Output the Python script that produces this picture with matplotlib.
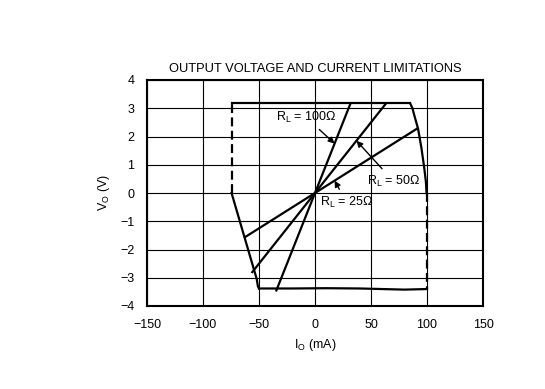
import matplotlib
matplotlib.use("Agg")
import matplotlib.pyplot as plt
import numpy as np

plt.rcParams["font.family"] = ["Liberation Sans", "DejaVu Sans"]
plt.rcParams["mathtext.fontset"] = "custom"
plt.rcParams["mathtext.rm"] = "Liberation Sans"

# limit envelope, I in mA, V in volts
top_i = [-74, 85]
top_v = [3.17, 3.17]
right_i = [85, 87, 89, 92, 95, 97.5, 99, 99.6]
right_v = [3.17, 3.0, 2.7, 2.28, 1.6, 0.9, 0.4, 0.0]
left_i = [-74.5, -52, -51, -50]
left_v = [0.0, -3.05, -3.3, -3.38]
bottom_i = [-50, -20, 10, 40, 60, 80, 100]
bottom_v = [-3.38, -3.38, -3.37, -3.38, -3.40, -3.42, -3.40]
dash_left_i = [-74.5, -74.5]
dash_left_v = [0.0, 3.17]
dash_right_i = [100, 100]
dash_right_v = [0.0, -3.40]

# load lines: resistance (ohm) and current end points (mA)
r_ohm = [100, 50, 25]
i_lo = [-34.5, -56, -62.5]
i_hi = [31.7, 63.4, 90.8]

fig = plt.figure(figsize=(5.45, 3.89), dpi=100)
ax = fig.add_axes([147 / 545, 1 - 306 / 389, 336 / 545, 226 / 389])

ax.set_xlim(-150, 150)
ax.set_ylim(-4, 4)
ax.set_xticks(np.arange(-150, 151, 50))
ax.set_yticks(np.arange(-4, 5, 1))
ax.set_xticklabels(["\u2212150", "\u2212100", "\u221250", "0", "50", "100", "150"])
ax.set_yticklabels(["\u22124", "\u22123", "\u22122", "\u22121", "0", "1", "2", "3", "4"])
ax.tick_params(axis="x", length=0, labelsize=9, pad=9)
ax.tick_params(axis="y", length=0, labelsize=9, pad=9)
ax.grid(True, color="k", lw=0.8)
ax.set_axisbelow(True)
for s in ax.spines.values():
    s.set_linewidth(1.5)

lw = 1.6
ax.plot(top_i, top_v, "k-", lw=lw)
ax.plot(right_i, right_v, "k-", lw=lw)
ax.plot(left_i, left_v, "k-", lw=lw)
ax.plot(bottom_i, bottom_v, "k-", lw=lw)
ax.plot(dash_left_i, dash_left_v, "k--", lw=lw, dashes=(4, 2))
ax.plot(dash_right_i, dash_right_v, "k--", lw=lw, dashes=(4, 2))

for r, lo, hi in zip(r_ohm, i_lo, i_hi):
    ax.plot([lo, hi], [lo * r / 1000, hi * r / 1000], "k-", lw=lw)

arrow = dict(arrowstyle="-|>", color="k", lw=1.0, mutation_scale=9, shrinkA=2, shrinkB=0)
ax.annotate("R$_\\mathregular{L}$ = 100\u03a9", xy=(17.5, 1.75), xytext=(-8, 2.68),
            ha="center", va="center", fontsize=9, arrowprops=arrow)
ax.annotate("R$_\\mathregular{L}$ = 50\u03a9", xy=(37, 1.85), xytext=(70, 0.42),
            ha="center", va="center", fontsize=9, arrowprops=arrow)
ax.annotate("R$_\\mathregular{L}$ = 25\u03a9", xy=(17.5, 0.44), xytext=(28, -0.32),
            ha="center", va="center", fontsize=9, arrowprops=arrow)

ax.set_title("OUTPUT VOLTAGE AND CURRENT LIMITATIONS", fontsize=9.3, pad=6)
ax.set_xlabel("I$_\\mathregular{O}$ (mA)", fontsize=9, labelpad=5)
ax.set_ylabel("V$_\\mathregular{O}$ (V)", fontsize=9, labelpad=6)

fig.savefig("out.png", dpi=100)
